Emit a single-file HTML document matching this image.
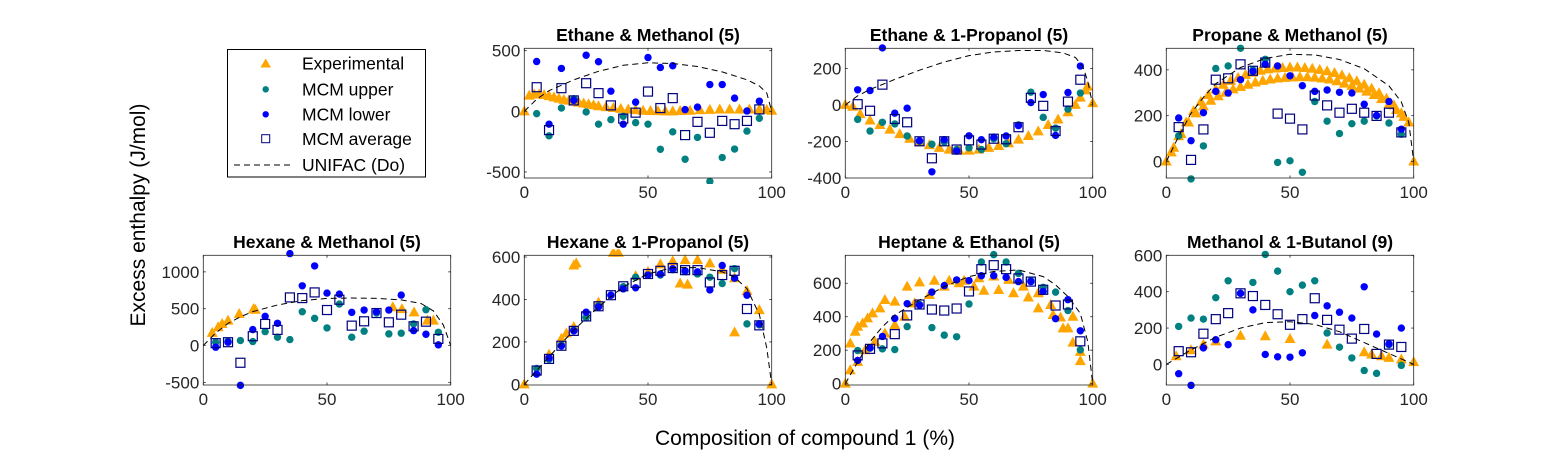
<!DOCTYPE html>
<html><head><meta charset="utf-8"><style>
html,body{margin:0;padding:0;background:#fff;}
svg{display:block;font-family:"Liberation Sans",Arial,sans-serif;}
</style></head><body>
<svg id="fig" width="1563" height="469" viewBox="0 0 1563 469" xmlns="http://www.w3.org/2000/svg">
<rect x="0" y="0" width="1563" height="469" fill="#fff"/>
<text x="0" y="0" transform="translate(145,215) rotate(-90)" text-anchor="middle" font-size="21" fill="#000">Excess enthalpy (J/mol)</text>
<text x="805" y="445" text-anchor="middle" font-size="21" fill="#000">Composition of compound 1 (%)</text>
<g>
<rect x="227.5" y="49.5" width="198" height="127.5" fill="#fff" stroke="#000" stroke-width="1"/>
<polygon points="265.7,58.5 271,67.5 260.4,67.5" fill="#FFA500"/>
<text x="302" y="69.5" font-size="17.5" fill="#000">Experimental</text>
<circle cx="265.7" cy="89.3" r="3.2" fill="#008080"/>
<text x="302" y="95.5" font-size="17.5" fill="#000">MCM upper</text>
<circle cx="265.7" cy="114.3" r="3.2" fill="#0000FF"/>
<text x="302" y="120.5" font-size="17.5" fill="#000">MCM lower</text>
<rect x="261.7" y="134.7" width="8" height="8" fill="none" stroke="#000080" stroke-width="1"/>
<text x="302" y="145" font-size="17.5" fill="#000">MCM average</text>
<line x1="234" y1="165" x2="292" y2="165" stroke="#000" stroke-width="1" stroke-dasharray="6,4"/>
<text x="302" y="171" font-size="17.5" fill="#000">UNIFAC (Do)</text>
</g>
<g id="panels"></g>
</svg>
<script>
const X5 = [5,10,15,20,25,30,35,40,45,50,55,60,65,70,75,80,85,90,95];

// Panel 1: Ethane & Methanol
const em_lower = [411,-106,354,90,463,409,166,-106,76,444,362,376,14,35,221,221,109,3,84];
const em_upper = [-19,-202,27,104,-5,-106,-68,-41,-93,-106,-313,-169,-395,-215,-578,-381,-311,-163,-57];
const em_avg = [199,-155,191,90,232,150,49,-60,-11,163,27,109,-196,-87,-177,-79,-106,-79,16];
const em_expX = [0,2,4,6,8,10,12,14,16,18,20,22,24,26,28,30,33,36,39,42,45,48,51,54,57,60,63,67,71,75,79,83,87,91,95,98,100];
const em_expY = [0,130,140,140,135,125,115,105,95,88,80,72,65,58,50,42,35,28,20,15,10,5,3,2,0,0,3,5,10,12,15,15,15,15,15,12,5];
const em_uniX = [0,2,5,10,15,20,30,40,50,60,70,80,90,95,98,100];
const em_uniY = [0,40,100,170,215,260,330,380,400,395,370,325,260,210,150,0];

// Panel 2: Ethane & 1-Propanol
const ep_lower = [83,79,312,-45,-18,-196,-366,-190,-253,-169,-190,-176,-170,-113,13,57,-167,68,213];
const ep_upper = [-79,-143,-95,-104,-170,-199,-215,-203,-244,-235,-244,-185,-212,-109,70,-68,-127,-23,65];
const ep_avg = [4,-32,111,-77,-95,-199,-292,-199,-244,-194,-217,-185,-188,-122,39,-5,-143,18,138];
const ep_expX = [0,3,6,10,14,18,22,26,30,34,38,42,46,50,54,58,62,66,70,74,78,82,86,90,93,95,97,98,100];
const ep_expY = [0,-10,-50,-85,-110,-135,-160,-185,-205,-220,-235,-245,-250,-250,-245,-235,-225,-210,-190,-170,-145,-110,-80,-40,0,40,80,100,10];
const ep_uniX = [0,5,10,15,20,30,40,50,60,70,80,88,93,96,98,100];
const ep_uniY = [0,50,85,112,140,190,235,270,290,298,298,285,260,210,130,0];

// Panel 3: Propane & Methanol
const pm_lower = [190,91,213,306,299,357,393,424,417,374,331,306,312,302,299,250,201,262,141];
const pm_upper = [112,-76,68,406,417,494,400,446,-4,3,-47,262,176,122,165,176,199,168,119];
const pm_avg = [150,7,140,357,363,424,396,432,209,187,140,288,245,213,230,213,199,213,127];
const pm_expX = [0,3,6,9,12,15,18,21,24,27,30,33,36,39,42,45,48,51,54,57,60,63,66,69,72,75,78,81,84,87,90,93,96,100,
                 2,5,8,11,14,17,20,23,26,29,32,35,38,41,44,47,50,53,56,59,62,65,68,71,74,77,80,83,86,89,92,95,98];
const pm_expY = [0,60,120,170,210,240,265,285,300,315,325,335,345,352,358,362,365,367,368,368,366,362,358,350,340,330,318,305,290,272,250,225,195,0,
                 40,110,170,220,260,290,315,335,352,365,378,388,396,402,406,408,410,410,408,405,400,394,386,376,364,350,335,318,298,274,245,210,170];
const pm_uniX = [0,5,10,15,20,30,40,50,60,70,80,90,95,98,100];
const pm_uniY = [0,110,210,280,340,410,450,468,465,445,405,330,260,170,0];

// Panel 4: Hexane & Methanol
const hm_lower = [-23,45,-541,216,396,302,1248,811,1081,712,698,450,482,459,482,685,203,153,9];
const hm_upper = [45,59,68,54,189,113,81,459,369,239,563,113,194,441,158,167,293,486,180];
const hm_avg = [32,45,-234,126,293,212,653,644,721,482,622,270,329,441,315,419,261,324,90];
const hm_expX = [3.6,6,7.6,10,14.5,20.3,21,76.6,80.3,85.2,90.6,93];
const hm_expY = [171,248,293,338,428,495,486,520,495,450,338,338];
const hm_uniX = [0,5,10,15,20,30,40,50,60,70,80,88,93,97,100];
const hm_uniY = [0,170,300,390,460,550,610,640,645,640,620,570,470,280,0];

// Panel 5: Hexane & 1-Propanol
const hp_lower = [48,125,181,252,340,365,420,450,455,515,520,545,535,530,445,560,500,420,285];
const hp_upper = [75,118,185,255,315,370,420,460,505,515,515,540,530,520,505,475,545,285,280];
const hp_avg = [65,120,182,252,320,368,420,462,478,520,535,548,538,538,480,515,535,355,278];
const hp_expX = [0,10,15,17,20,20,21,30,36,38,45,50,55,60,63,65,66,70,75,80,85,85,90,95,100];
const hp_expY = [0,140,215,240,270,560,570,385,620,620,510,530,565,580,475,585,470,585,570,540,500,245,440,350,0];
const hp_uniX = [0,10,20,30,40,50,60,70,80,85,90,95,98,100];
const hp_uniY = [0,130,255,365,460,520,550,550,530,505,450,330,170,0];

// Panel 6: Heptane & Ethanol
const he_lower = [139,214,282,390,478,469,547,586,620,616,645,645,635,610,610,551,388,502,316];
const he_upper = [198,212,208,204,341,473,335,290,280,476,727,771,727,659,616,576,547,437,202];
const he_avg = [169,208,241,296,408,473,443,437,449,551,684,708,684,629,610,561,467,473,253];
const he_expX = [0,2,4,5,7,9,11,14,16,20,25,30,36,42,48,54,60,66,72,78,83,87,90,92,95,100,
                 2,5,8,12,16,20,24,28,34,40,46,52,56,62,68,74,78,84,88,92,95];
const he_expY = [0,240,310,340,360,390,420,450,500,490,580,605,615,615,615,630,640,620,580,540,470,395,330,400,190,0,
                 80,130,200,250,300,350,400,480,530,580,600,580,555,560,540,515,450,410,330,245,135];
const he_uniX = [0,5,10,15,20,30,40,50,60,70,80,85,90,95,98,100];
const he_uniY = [0,130,250,340,410,500,580,640,670,680,640,590,520,420,250,0];

// Panel 7: Methanol & 1-Butanol
const mb_lower = [-51,-115,91,136,109,391,300,55,42,40,64,269,322,287,255,427,167,113,200];
const mb_upper = [209,255,249,367,460,391,451,605,513,400,436,460,173,95,36,-33,-49,109,-5];
const mb_avg = [73,67,169,249,282,391,376,327,276,218,249,364,245,191,142,195,58,109,96];
const mb_expX = [4,10,15,20,30,40,50,65,80,83,87,90,95,100];
const mb_expY = [45,78,109,127,158,155,140,109,67,55,45,36,27,13];
const mb_uniX = [0,10,20,30,40,50,60,70,80,90,100];
const mb_uniY = [0,80,150,200,230,235,220,180,120,60,0];

const panels = [
 {name:'ethane-methanol',title:'Ethane & Methanol (5)',x:524.3,y:48.3,ylim:[-550,520],ticks:[-500,0,500],lo:em_lower,up:em_upper,av:em_avg,ex:em_expX,ey:em_expY,ux:em_uniX,uy:em_uniY},
 {name:'ethane-1-propanol',title:'Ethane & 1-Propanol (5)',x:845.3,y:48.3,ylim:[-400,310],ticks:[-400,-200,0,200],lo:ep_lower,up:ep_upper,av:ep_avg,ex:ep_expX,ey:ep_expY,ux:ep_uniX,uy:ep_uniY},
 {name:'propane-methanol',title:'Propane & Methanol (5)',x:1166.3,y:48.3,ylim:[-72,494],ticks:[0,200,400],lo:pm_lower,up:pm_upper,av:pm_avg,ex:pm_expX,ey:pm_expY,ux:pm_uniX,uy:pm_uniY},
 {name:'hexane-methanol',title:'Hexane & Methanol (5)',x:203.3,y:255.3,ylim:[-536,1225],ticks:[-500,0,500,1000],lo:hm_lower,up:hm_upper,av:hm_avg,ex:hm_expX,ey:hm_expY,ux:hm_uniX,uy:hm_uniY},
 {name:'hexane-1-propanol',title:'Hexane & 1-Propanol (5)',x:524.3,y:255.3,ylim:[-3,608],ticks:[0,200,400,600],lo:hp_lower,up:hp_upper,av:hp_avg,ex:hp_expX,ey:hp_expY,ux:hp_uniX,uy:hp_uniY},
 {name:'heptane-ethanol',title:'Heptane & Ethanol (5)',x:845.3,y:255.3,ylim:[-8,767],ticks:[0,200,400,600],lo:he_lower,up:he_upper,av:he_avg,ex:he_expX,ey:he_expY,ux:he_uniX,uy:he_uniY},
 {name:'methanol-1-butanol',title:'Methanol & 1-Butanol (9)',x:1166.3,y:255.3,ylim:[-113,600],ticks:[0,200,400,600],lo:mb_lower,up:mb_upper,av:mb_avg,ex:mb_expX,ey:mb_expY,ux:mb_uniX,uy:mb_uniY}
];
const W = 247.4, H = 129.7;
const NS = 'http://www.w3.org/2000/svg';
const root = document.getElementById('panels');
function mk(tag, attrs, parent){const e=document.createElementNS(NS,tag);for(const k in attrs)e.setAttribute(k,attrs[k]);parent.appendChild(e);return e;}

panels.forEach(p=>{
  const g = mk('g',{},root);
  
  
  const sx = v => p.x + v/100*W;
  const sy = v => p.y + H - (v-p.ylim[0])/(p.ylim[1]-p.ylim[0])*H;
  const cid = 'clip-'+p.name;
  const cp = mk('clipPath',{id:cid},g);
  mk('rect',{x:p.x-6,y:p.y-6,width:W+12,height:H+12},cp);
  const title = mk('text',{x:p.x+W/2,y:p.y-7.5,'text-anchor':'middle','font-size':'17.5','font-weight':'bold',fill:'#000'},g);
  title.textContent = p.title;
  
  
  const plot = mk('g',{'clip-path':'url(#'+cid+')'},g);
  // experimental triangles
  p.ex.forEach((xv,i)=>{
    const cx=sx(xv), cy=sy(p.ey[i]);
    const t = mk('polygon',{points:`${cx},${cy-6} ${cx+5.5},${cy+4} ${cx-5.5},${cy+4}`,fill:'#FFA500'},plot);
    
    
  });
  X5.forEach((xv,i)=>{
    const c = mk('circle',{cx:sx(xv),cy:sy(p.up[i]),r:3.7,fill:'#008080'},plot);
    
    
  });
  X5.forEach((xv,i)=>{
    const c = mk('circle',{cx:sx(xv),cy:sy(p.lo[i]),r:3.7,fill:'#0000FF'},plot);
    
    
  });
  X5.forEach((xv,i)=>{
    const r = mk('rect',{x:sx(xv)-4.5,y:sy(p.av[i])-4.5,width:9,height:9,fill:'none',stroke:'#000080','stroke-width':1.2},plot);
    
    
  });
  const d = p.ux.map((xv,i)=>(i?'L':'M')+sx(xv).toFixed(1)+','+sy(p.uy[i]).toFixed(1)).join(' ');
  const ln = mk('path',{d:d,fill:'none',stroke:'#000','stroke-width':1,'stroke-dasharray':'6,4'},plot);
  
  
  // axes box
  const box = mk('rect',{x:p.x,y:p.y,width:W,height:H,fill:'none',stroke:'#262626','stroke-width':0.8},g);
  
  
  // x ticks
  [0,50,100].forEach(v=>{
    const X=sx(v);
    mk('line',{x1:X,y1:p.y+H,x2:X,y2:p.y+H-2.5,stroke:'#262626','stroke-width':0.8},g);
    mk('line',{x1:X,y1:p.y,x2:X,y2:p.y+2.5,stroke:'#262626','stroke-width':0.8},g);
    const t = mk('text',{x:X,y:p.y+H+20,'text-anchor':'middle','font-size':'17',fill:'#262626'},g);
    t.textContent = v;
    
    
  });
  p.ticks.forEach(v=>{
    const Y=sy(v);
    mk('line',{x1:p.x,y1:Y,x2:p.x+2.5,y2:Y,stroke:'#262626','stroke-width':0.8},g);
    mk('line',{x1:p.x+W,y1:Y,x2:p.x+W-2.5,y2:Y,stroke:'#262626','stroke-width':0.8},g);
    const t = mk('text',{x:p.x-4,y:Y+6,'text-anchor':'end','font-size':'17',fill:'#262626'},g);
    t.textContent = v;
    
    
  });
});
</script>
</body></html>
